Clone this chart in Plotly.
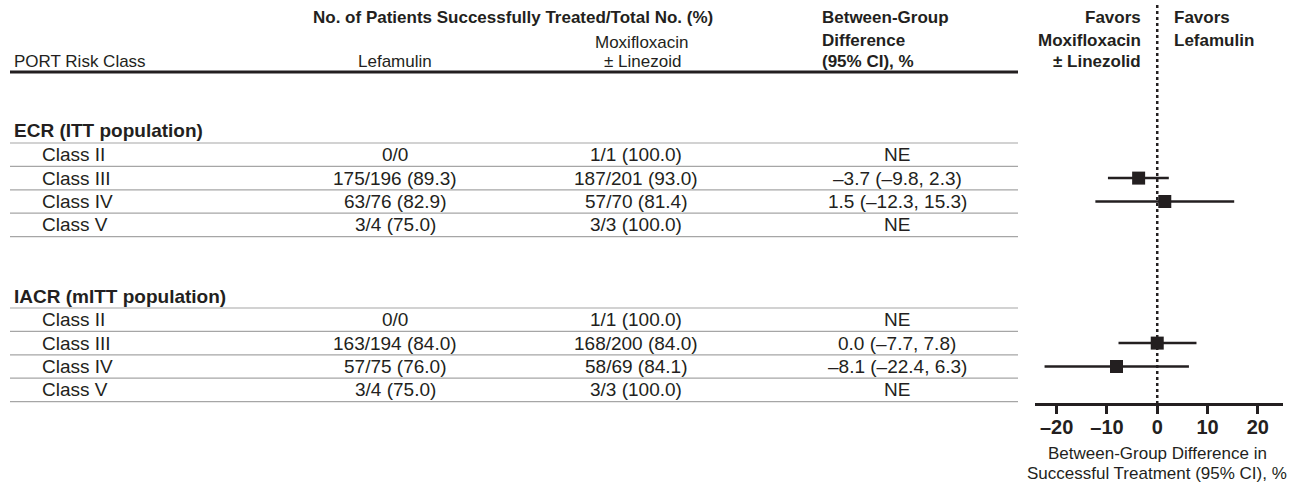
import plotly.graph_objects as go

# ---- data ----
sections = ["ECR (ITT population)", "IACR (mITT population)"]
classes = ["Class II", "Class III", "Class IV", "Class V"]

lefamulin = [
    ["0/0", "175/196 (89.3)", "63/76 (82.9)", "3/4 (75.0)"],
    ["0/0", "163/194 (84.0)", "57/75 (76.0)", "3/4 (75.0)"],
]
moxifloxacin = [
    ["1/1 (100.0)", "187/201 (93.0)", "57/70 (81.4)", "3/3 (100.0)"],
    ["1/1 (100.0)", "168/200 (84.0)", "58/69 (84.1)", "3/3 (100.0)"],
]
# point estimate, lower CI, upper CI (None = not estimable)
diff_est = [[None, -3.7, 1.5, None], [None, 0.0, -8.1, None]]
diff_lo = [[None, -9.8, -12.3, None], [None, -7.7, -22.4, None]]
diff_hi = [[None, 2.3, 15.3, None], [None, 7.8, 6.3, None]]

tick_vals = [-20, -10, 0, 10, 20]
tick_text = ["\u201320", "\u201310", "0", "10", "20"]

# ---- layout constants (pixels) ----
W, H = 1301, 485
FONT = "Liberation Sans"
INK = "#231f20"
GRID = "#a6a6a6"
AXIS_Y = 403                      # pixel row of the forest x-axis
SECTION_LINE0 = [143, 308]        # first rule under each section header
ROW_STEP = 23.4
COL_LEF, COL_MOX, COL_DIFF = 395, 636, 897
TABLE_X0, TABLE_X1 = 10, 1018

F_ROW = 19        # table body
F_HEAD = 17       # column headers
F_SECTION = 19    # section titles


def px(x):
    return x / W


def py(y):
    return 1 - y / H


def fmt(v):
    return f"{v:.1f}".replace("-", "\u2013")


fig = go.Figure()
ann = []
shapes = []


def text(x, y, s, size=15, bold=False, xanchor="left", color=INK):
    ann.append(dict(
        x=px(x), y=py(y), xref="paper", yref="paper", text=s, showarrow=False,
        xanchor=xanchor, yanchor="middle", align=xanchor if xanchor != "center" else "center",
        font=dict(family=FONT, size=size, color=color, weight="bold" if bold else "normal"),
    ))


def hline(y, x0, x1, width, color):
    shapes.append(dict(type="line", xref="paper", yref="paper",
                       x0=px(x0), x1=px(x1), y0=py(y), y1=py(y),
                       line=dict(color=color, width=width)))


# ---- column headers ----
text(513, 18, "No. of Patients Successfully Treated/Total No. (%)", F_HEAD, True, "center")
text(12, 62, "PORT Risk Class", F_HEAD)
text(COL_LEF, 62, "Lefamulin", F_HEAD, xanchor="center")
text(642, 42, "Moxifloxacin", F_HEAD, xanchor="center")
text(642, 61, "\u00b1 Linezoid", F_HEAD, xanchor="center")
text(820, 18, "Between-Group", F_HEAD, True)
text(820, 40, "Difference", F_HEAD, True)
text(820, 61, "(95% CI), %", F_HEAD, True)
hline(72, TABLE_X0, TABLE_X1, 3, INK)

text(1143, 18, "Favors", F_HEAD, True, "right")
text(1143, 40, "Moxifloxacin", F_HEAD, True, "right")
text(1143, 61, "\u00b1 Linezolid", F_HEAD, True, "right")
text(1172, 18, "Favors", F_HEAD, True)
text(1172, 40, "Lefamulin", F_HEAD, True)

# ---- table body and forest points ----
pt_x, pt_y, err_plus, err_minus = [], [], [], []
for s, name in enumerate(sections):
    base = SECTION_LINE0[s]
    text(12, base - 12, name, F_SECTION, True)
    hline(base, TABLE_X0, TABLE_X1, 1.2, GRID)
    for r, cls in enumerate(classes):
        yc = base + ROW_STEP * (r + 0.5)
        text(40, yc, cls, F_ROW)
        text(COL_LEF, yc, lefamulin[s][r], F_ROW, xanchor="center")
        text(COL_MOX, yc, moxifloxacin[s][r], F_ROW, xanchor="center")
        est = diff_est[s][r]
        if est is None:
            text(COL_DIFF, yc, "NE", F_ROW, xanchor="center")
        else:
            lo, hi = diff_lo[s][r], diff_hi[s][r]
            text(COL_DIFF, yc, f"{fmt(est)} ({fmt(lo)}, {fmt(hi)})", F_ROW, xanchor="center")
            pt_x.append(est)
            pt_y.append(yc)
            err_plus.append(hi - est)
            err_minus.append(est - lo)
        hline(base + ROW_STEP * (r + 1), TABLE_X0, TABLE_X1, 1.2, GRID)

fig.add_trace(go.Scatter(
    x=pt_x, y=pt_y, mode="markers",
    marker=dict(symbol="square", size=13, color=INK),
    error_x=dict(type="data", symmetric=False, array=err_plus, arrayminus=err_minus,
                 color=INK, thickness=2.5, width=0),
    showlegend=False, hoverinfo="skip",
))

# line of no difference
shapes.append(dict(type="line", xref="x", yref="y", x0=0, x1=0, y0=5, y1=AXIS_Y,
                   line=dict(color=INK, width=2.5, dash="dot"), layer="below"))

# axis title
text(1157, 453, "Between-Group Difference in", 17, xanchor="center")
text(1157, 473, "Successful Treatment (95% CI), %", 17, xanchor="center")

fig.update_layout(
    width=W, height=H, margin=dict(l=0, r=0, t=0, b=0),
    paper_bgcolor="white", plot_bgcolor="rgba(0,0,0,0)",
    annotations=ann, shapes=shapes,
    xaxis=dict(domain=[px(1035), px(1283)], range=[-24.3, 25.0],
               showline=True, linecolor=INK, linewidth=2.5,
               ticks="outside", ticklen=8, tickwidth=2.5, tickcolor=INK,
               tickvals=tick_vals, ticktext=tick_text, ticklabelstandoff=-4,
               tickfont=dict(family=FONT, size=20, color=INK, weight="bold"),
               showgrid=False, zeroline=False, fixedrange=True),
    yaxis=dict(domain=[py(AXIS_Y), 1], range=[AXIS_Y, 0], visible=False,
               showgrid=False, zeroline=False, fixedrange=True),
)

fig.write_html("out.html")
